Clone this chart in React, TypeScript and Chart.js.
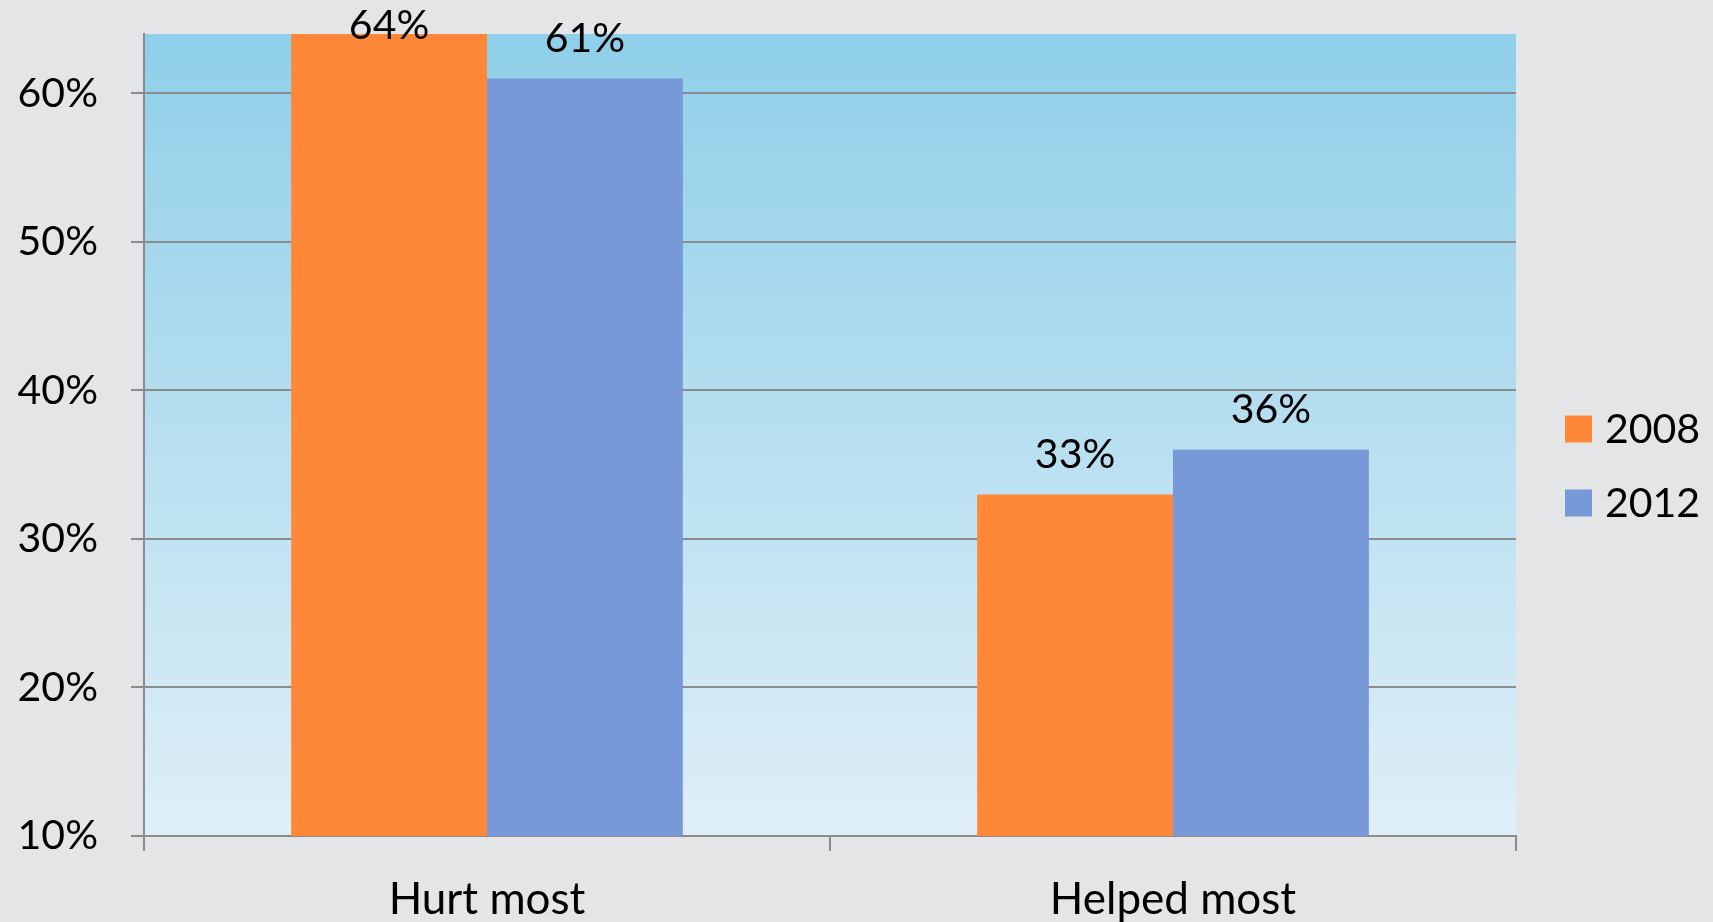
import React, { useEffect, useRef } from "react";
import { Chart, registerables } from "chart.js";

Chart.register(...registerables);

const categories = ["Hurt most", "Helped most"];
const series2008 = [64, 33];
const series2012 = [61, 36];
const seriesNames = ["2008", "2012"];
const seriesColors = ["#FF8838", "#7799D7"];
const yTicks = [10, 20, 30, 40, 50, 60];

const FONT = "Lato, 'Open Sans', sans-serif";
const FS = 41;

const bgPlugin = {
  id: "bgPlugin",
  beforeDraw(chart: any) {
    const { ctx, chartArea } = chart;
    ctx.save();
    ctx.fillStyle = "#E4E5E7";
    ctx.fillRect(0, 0, chart.width, chart.height);
    const g = ctx.createLinearGradient(0, chartArea.top, 0, chartArea.bottom);
    g.addColorStop(0, "#8FCFE9");
    g.addColorStop(1, "#DFEFF7");
    ctx.fillStyle = g;
    ctx.fillRect(chartArea.left, chartArea.top, chartArea.right - chartArea.left, chartArea.bottom - chartArea.top);
    ctx.restore();
  },
};

const labelPlugin = {
  id: "labelPlugin",
  afterDatasetsDraw(chart: any) {
    const { ctx } = chart;
    ctx.save();
    ctx.fillStyle = "#000";
    ctx.font = `${FS}px ${FONT}`;
    ctx.textAlign = "center";
    ctx.textBaseline = "middle";
    chart.data.datasets.forEach((ds: any, i: number) => {
      const meta = chart.getDatasetMeta(i);
      meta.data.forEach((bar: any, j: number) => {
        const y = Math.max(bar.y - 40, 26);
        ctx.fillText(`${ds.data[j]}%`, bar.x, y);
      });
    });
    // legend
    const boxX = 1565;
    const ys = [429, 503];
    seriesNames.forEach((name, i) => {
      ctx.fillStyle = seriesColors[i];
      ctx.fillRect(boxX, ys[i] - 13.5, 27, 27);
      ctx.fillStyle = "#000";
      ctx.textAlign = "left";
      ctx.fillText(name, 1605, ys[i] + 1);
    });
    ctx.restore();
  },
};

export default function App() {
  const ref = useRef<HTMLCanvasElement>(null);
  useEffect(() => {
    document.body.style.margin = "0";
    const chart = new Chart(ref.current!, {
      type: "bar",
      data: {
        labels: categories,
        datasets: [
          { label: seriesNames[0], data: series2008, backgroundColor: seriesColors[0] },
          { label: seriesNames[1], data: series2012, backgroundColor: seriesColors[1] },
        ],
      },
      options: {
        responsive: false,
        animation: false,
        events: [],
        layout: { padding: { top: 34, right: 197, left: 0, bottom: 0 } },
        plugins: { legend: { display: false }, tooltip: { enabled: false } },
        datasets: { bar: { barPercentage: 1, categoryPercentage: 0.571 } },
        scales: {
          x: {
            grid: { drawOnChartArea: false, offset: true, color: "#8C8C8C", lineWidth: 2, tickLength: 15 },
            border: { color: "#8C8C8C", width: 2 },
            ticks: { color: "#000", font: { family: FONT, size: 44 }, padding: 22 },
            afterFit(scale: any) {
              scale.height = 86;
              scale.paddingLeft = 0;
              scale.paddingRight = 0;
            },
          },
          y: {
            min: 10,
            max: 64,
            afterBuildTicks(scale: any) {
              scale.ticks = yTicks.map((v) => ({ value: v }));
            },
            grid: { color: "#8C8C8C", lineWidth: 2, tickLength: 13 },
            border: { color: "#8C8C8C", width: 2 },
            ticks: {
              color: "#000",
              font: { family: FONT, size: FS },
              padding: 33,
              callback: (v: any) => `${v}%`,
            },
            afterFit(scale: any) {
              scale.width = 144;
              scale.paddingTop = 0;
              scale.paddingBottom = 0;
            },
          },
        },
      },
      plugins: [bgPlugin, labelPlugin],
    });
    return () => chart.destroy();
  }, []);
  return <canvas ref={ref} width={1713} height={922} style={{ display: "block", width: 1713, height: 922 }} />;
}
